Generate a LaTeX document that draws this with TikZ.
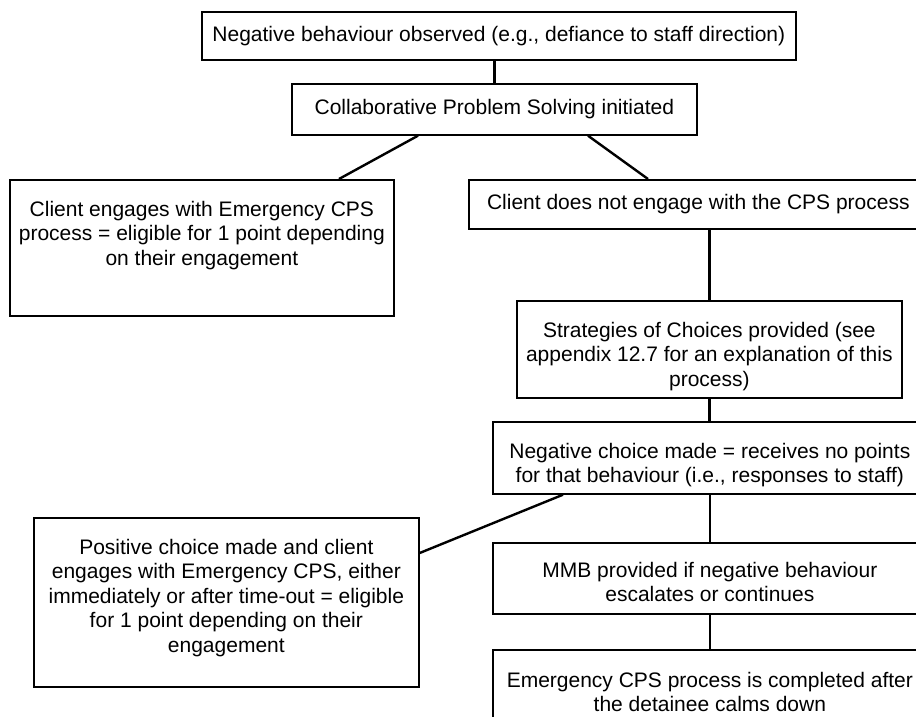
\documentclass[tikz,border=0pt]{standalone}
\usepackage{fontspec}
\setmainfont{Liberation Sans}
\begin{document}
\begin{tikzpicture}[x=1pt,y=-1pt,
  box/.style={draw=black, line width=1.7pt, inner sep=0pt, anchor=north west,
    font=\fontsize{21}{24.5}\selectfont, align=center},
  txt/.style={inner sep=0pt, align=center, anchor=north,
    font=\fontsize{21}{24.5}\selectfont},
  link/.style={draw=black, line width=2.4pt}]
\clip (0,0) rectangle (916,717);
\fill[white] (0,0) rectangle (916,717);

% boxes
\node[box, minimum width=594pt, minimum height=48pt] (top) at (201,11)
  {Negative behaviour observed (e.g., defiance to staff direction)};
\node[box, minimum width=405pt, minimum height=51pt] (cps) at (291,83)
  {Collaborative Problem Solving initiated};
\node[box, minimum width=384pt, minimum height=136pt] (engage) at (9,179) {};
\node[box, minimum width=459pt, minimum height=49pt] (noengage) at (468,179)
  {Client does not engage with the CPS process};
\node[box, minimum width=385pt, minimum height=97pt] (strat) at (516,300) {};
\node[box, minimum width=434pt, minimum height=72pt] (negch) at (492,421) {};
\node[box, minimum width=385pt, minimum height=169pt] (posch) at (33,517) {};
\node[box, minimum width=434pt, minimum height=71pt] (mmb) at (492,542) {};
\node[box, minimum width=434pt, minimum height=120pt] (emerg) at (492,649) {};

% multi-line texts, set from the top of their boxes
\node[txt] (engaget) at ([yshift=-22pt]engage.north)
  {Client engages with Emergency CPS\\process = eligible for 1 point depending\\on their engagement};
\node[txt] (stratt) at ([yshift=-22pt]strat.north)
  {Strategies of Choices provided (see\\appendix 12.7 for an explanation of this\\process)};
\node[txt] (negcht) at ([yshift=-22pt]negch.north)
  {Negative choice made = receives no points\\for that behaviour (i.e., responses to staff)};
\node[txt] (poscht) at ([yshift=-22pt]posch.north)
  {Positive choice made and client\\engages with Emergency CPS, either\\immediately or after time-out = eligible\\for 1 point depending on their\\engagement};
\node[txt] (mmbt) at ([yshift=-20pt]mmb.north)
  {MMB provided if negative behaviour\\escalates or continues};
\node[txt] (emergt) at ([yshift=-23pt]emerg.north)
  {Emergency CPS process is completed after\\the detainee calms down};

% connectors
\draw[link] (top.south -| cps.north) -- (cps.north);
\draw[link] ([xshift=127pt]cps.south west) -- ([xshift=330pt]engage.north west);
\draw[link] ([xshift=297pt]cps.south west) -- ([xshift=180pt]noengage.north west);
\draw[link] (noengage.south -| strat.north) -- (strat.north);
\draw[link] (strat.south) -- (strat.south |- negch.north);
\draw[link] ([xshift=71pt]negch.south west) -- ([yshift=-36pt]posch.north east);
\draw[link] (negch.south) -- (mmb.north);
\draw[link] (mmb.south) -- (emerg.north);
\end{tikzpicture}
\end{document}
